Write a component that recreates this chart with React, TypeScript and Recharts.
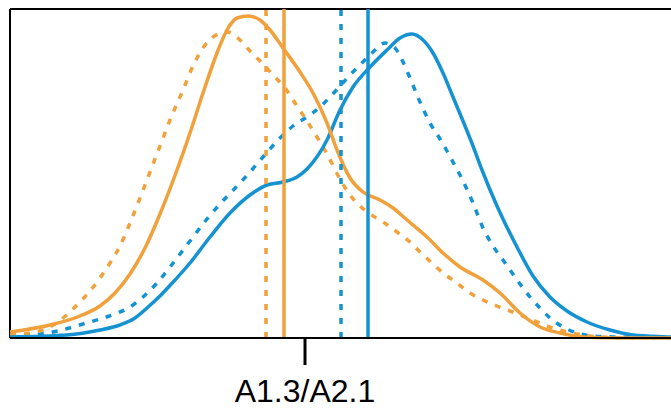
import { LineChart, Line, XAxis, YAxis, ReferenceLine } from "recharts";

// x in pixel-like score units, y = density height (same units)
const orangeSolid = [
  { x: 0, y: 6 }, { x: 40, y: 13 }, { x: 70, y: 22 }, { x: 90, y: 32 }, { x: 105, y: 45 },
  { x: 120, y: 64 }, { x: 135, y: 90 }, { x: 150, y: 124 }, { x: 167, y: 168 }, { x: 180, y: 205 },
  { x: 193, y: 245 }, { x: 207, y: 285 }, { x: 217, y: 308 }, { x: 227, y: 320 }, { x: 238, y: 322 },
  { x: 250, y: 318 }, { x: 260, y: 308 }, { x: 273, y: 290 }, { x: 290, y: 266 }, { x: 303, y: 245 },
  { x: 317, y: 215 }, { x: 327, y: 188 }, { x: 340, y: 160 }, { x: 353, y: 146 }, { x: 370, y: 138 },
  { x: 383, y: 130 }, { x: 397, y: 118 }, { x: 417, y: 101 }, { x: 433, y: 85 }, { x: 450, y: 71 },
  { x: 473, y: 58 }, { x: 490, y: 45 }, { x: 510, y: 25 }, { x: 530, y: 11 }, { x: 550, y: 5 },
  { x: 573, y: 1 }, { x: 610, y: 0 }, { x: 680, y: 0 },
];

const orangeDashed = [
  { x: 0, y: 3 }, { x: 20, y: 5 }, { x: 40, y: 11 }, { x: 53, y: 20 }, { x: 67, y: 33 },
  { x: 80, y: 47 }, { x: 90, y: 60 }, { x: 100, y: 75 }, { x: 110, y: 92 }, { x: 120, y: 115 },
  { x: 130, y: 140 }, { x: 140, y: 166 }, { x: 150, y: 192 }, { x: 160, y: 218 }, { x: 173, y: 248 },
  { x: 183, y: 272 }, { x: 193, y: 290 }, { x: 203, y: 301 }, { x: 217, y: 306 }, { x: 230, y: 298 },
  { x: 240, y: 287 }, { x: 252, y: 275 }, { x: 263, y: 263 }, { x: 275, y: 250 }, { x: 287, y: 232 },
  { x: 297, y: 217 }, { x: 307, y: 201 }, { x: 317, y: 184 }, { x: 330, y: 159 }, { x: 340, y: 143 },
  { x: 350, y: 132 }, { x: 360, y: 124 }, { x: 373, y: 116 }, { x: 387, y: 106 }, { x: 400, y: 96 },
  { x: 410, y: 86 }, { x: 422, y: 75 }, { x: 433, y: 65 }, { x: 447, y: 55 }, { x: 460, y: 45 },
  { x: 473, y: 38 }, { x: 487, y: 32 }, { x: 500, y: 27 }, { x: 515, y: 21 }, { x: 530, y: 15 },
  { x: 543, y: 10 }, { x: 557, y: 6 }, { x: 573, y: 3 }, { x: 590, y: 1 }, { x: 630, y: 0 },
  { x: 680, y: 0 },
];

const blueSolid = [
  { x: 0, y: 1 }, { x: 57, y: 3 }, { x: 90, y: 8 }, { x: 110, y: 13 }, { x: 125, y: 20 },
  { x: 137, y: 30 }, { x: 150, y: 42 }, { x: 165, y: 58 }, { x: 180, y: 75 }, { x: 200, y: 101 },
  { x: 220, y: 125 }, { x: 240, y: 143 }, { x: 257, y: 153 }, { x: 273, y: 156 }, { x: 287, y: 161 },
  { x: 297, y: 169 }, { x: 317, y: 198 }, { x: 330, y: 228 }, { x: 343, y: 251 }, { x: 360, y: 271 },
  { x: 377, y: 288 }, { x: 390, y: 300 }, { x: 402, y: 304 }, { x: 413, y: 298 }, { x: 423, y: 285 },
  { x: 433, y: 265 }, { x: 443, y: 241 }, { x: 453, y: 217 }, { x: 463, y: 192 }, { x: 472, y: 168 },
  { x: 487, y: 132 }, { x: 507, y: 91 }, { x: 523, y: 62 }, { x: 540, y: 41 }, { x: 557, y: 27 },
  { x: 577, y: 16 }, { x: 600, y: 8 }, { x: 623, y: 3 }, { x: 660, y: 1 }, { x: 680, y: 0 },
];

const blueDashed = [
  { x: 0, y: 1 }, { x: 23, y: 3 }, { x: 43, y: 6 }, { x: 73, y: 14 }, { x: 90, y: 19 },
  { x: 105, y: 24 }, { x: 120, y: 31 }, { x: 133, y: 41 }, { x: 147, y: 55 }, { x: 160, y: 71 },
  { x: 180, y: 97 }, { x: 197, y: 119 }, { x: 210, y: 134 }, { x: 230, y: 155 }, { x: 240, y: 166 },
  { x: 253, y: 181 }, { x: 270, y: 200 }, { x: 283, y: 212 }, { x: 297, y: 221 }, { x: 310, y: 231 },
  { x: 320, y: 241 }, { x: 330, y: 252 }, { x: 340, y: 263 }, { x: 350, y: 273 }, { x: 363, y: 286 },
  { x: 375, y: 295 }, { x: 385, y: 290 }, { x: 393, y: 276 }, { x: 400, y: 260 }, { x: 410, y: 236 },
  { x: 420, y: 215 }, { x: 430, y: 199 }, { x: 437, y: 187 }, { x: 443, y: 176 }, { x: 450, y: 163 },
  { x: 463, y: 135 }, { x: 473, y: 110 }, { x: 483, y: 92 }, { x: 493, y: 78 }, { x: 500, y: 68 },
  { x: 510, y: 54 }, { x: 520, y: 41 }, { x: 530, y: 30 }, { x: 540, y: 20 }, { x: 553, y: 11 },
  { x: 567, y: 5 }, { x: 583, y: 2 }, { x: 607, y: 1 }, { x: 680, y: 0 },
];

// means shown as vertical lines
const orangeMeans = { dashed: 256, solid: 274 };
const blueMeans = { dashed: 331, solid: 358 };

const tickValues = [295];
const tickLabels = ["A1.3/A2.1"];

const ORANGE = "#F0A13C";
const BLUE = "#1592D2";
const DASH = "6 8";

function AxisTick(props: any) {
  const { x, y, index } = props;
  return (
    <text
      x={x}
      y={y + 35}
      textAnchor="middle"
      fontSize={32}
      fontFamily="'Liberation Sans', Arial, sans-serif"
      fill="#000"
    >
      {tickLabels[index]}
    </text>
  );
}

export default function App() {
  return (
    <div
      style={{
        position: "fixed",
        left: 0,
        top: 0,
        width: 671,
        height: 409,
        overflow: "hidden",
        background: "#fff",
      }}
    >
      <LineChart width={700} height={409} margin={{ top: 9, right: 10, bottom: 0, left: 10 }}>
        <XAxis
          type="number"
          dataKey="x"
          domain={[0, 680]}
          ticks={tickValues}
          tick={<AxisTick />}
          tickSize={27}
          tickLine={{ stroke: "#000", strokeWidth: 3 }}
          axisLine={{ stroke: "#000", strokeWidth: 2 }}
          height={71}
        />
        <YAxis type="number" domain={[0, 329]} width={0} tick={false} tickLine={false} axisLine={false} />
        <ReferenceLine y={329} stroke="#000" strokeWidth={2} />
        <ReferenceLine x={0} stroke="#000" strokeWidth={2} />
        <Line data={blueDashed} dataKey="y" type="monotone" stroke={BLUE} strokeWidth={3.5}
          strokeDasharray={DASH} dot={false} isAnimationActive={false} />
        <Line data={orangeDashed} dataKey="y" type="monotone" stroke={ORANGE} strokeWidth={3.5}
          strokeDasharray={DASH} dot={false} isAnimationActive={false} />
        <Line data={blueSolid} dataKey="y" type="monotone" stroke={BLUE} strokeWidth={3.5}
          dot={false} isAnimationActive={false} />
        <Line data={orangeSolid} dataKey="y" type="monotone" stroke={ORANGE} strokeWidth={3.5}
          dot={false} isAnimationActive={false} />
        <ReferenceLine x={orangeMeans.dashed} stroke={ORANGE} strokeWidth={3.5} strokeDasharray={DASH} />
        <ReferenceLine x={orangeMeans.solid} stroke={ORANGE} strokeWidth={3.5} />
        <ReferenceLine x={blueMeans.dashed} stroke={BLUE} strokeWidth={3.5} strokeDasharray={DASH} />
        <ReferenceLine x={blueMeans.solid} stroke={BLUE} strokeWidth={3.5} />
      </LineChart>
    </div>
  );
}
